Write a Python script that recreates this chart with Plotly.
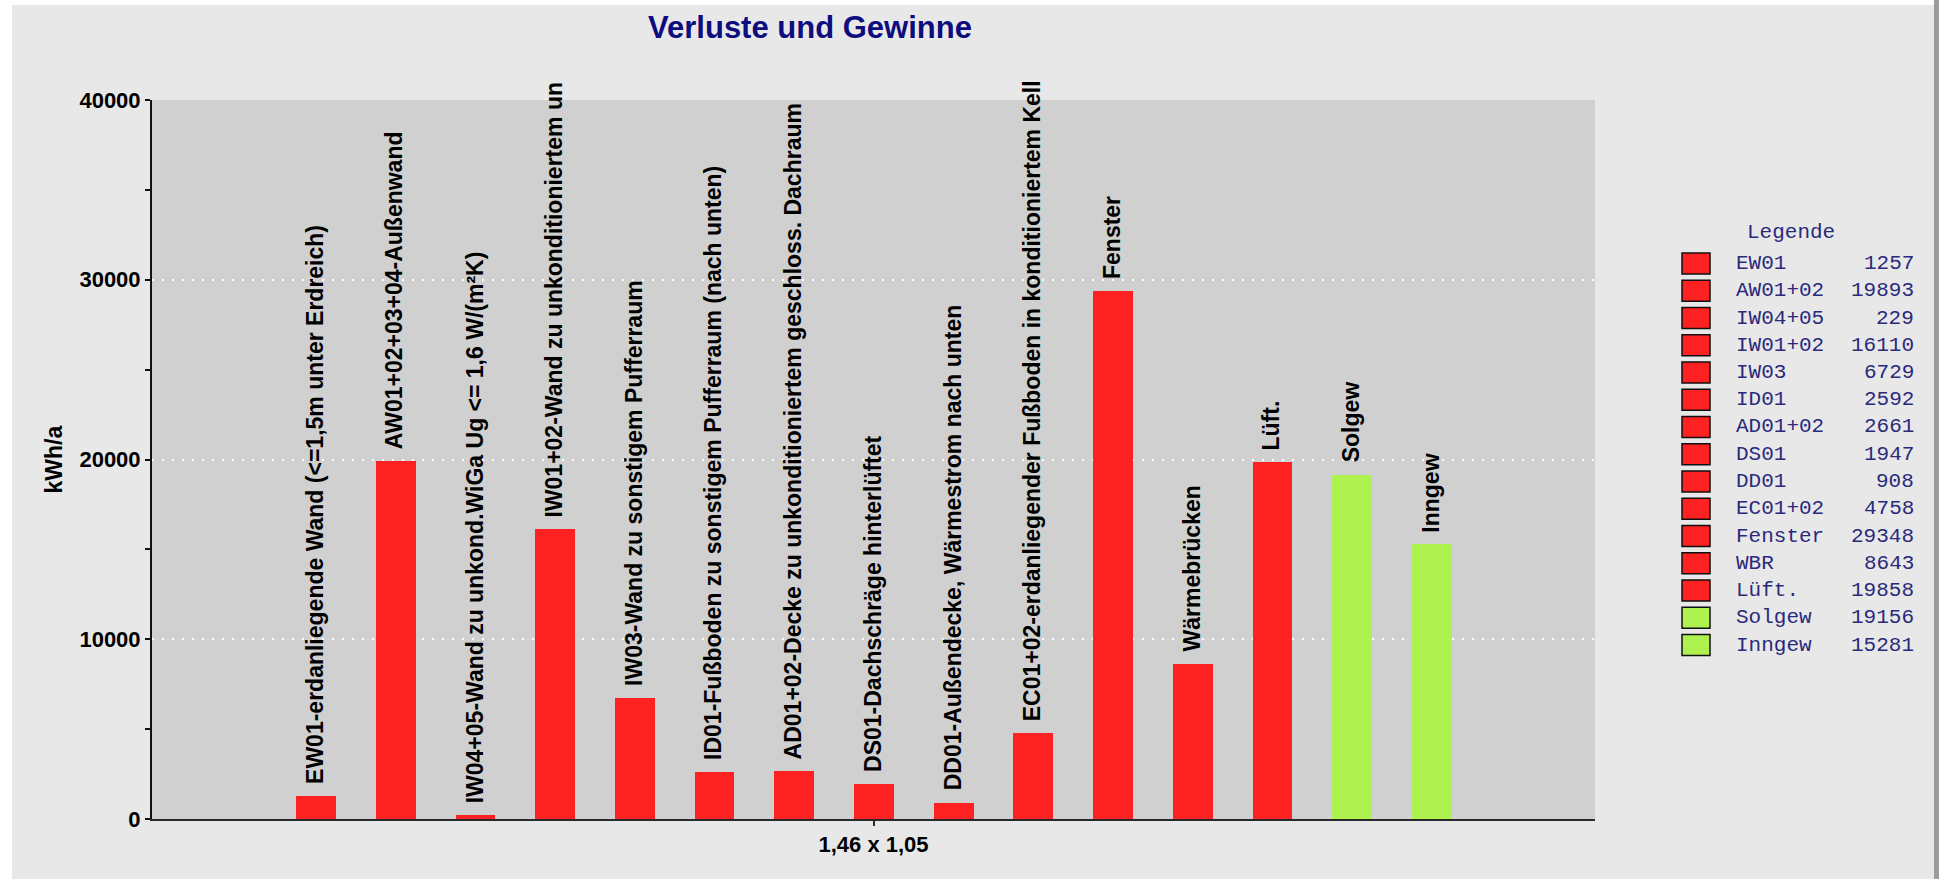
import plotly.graph_objects as go

# ---------------- data ----------------
legend_names = ["EW01", "AW01+02", "IW04+05", "IW01+02", "IW03", "ID01", "AD01+02",
                "DS01", "DD01", "EC01+02", "Fenster", "WBR", "Lüft.", "Solgew", "Inngew"]
bar_labels = [
    "EW01-erdanliegende Wand (<=1,5m unter Erdreich)",
    "AW01+02+03+04-Außenwand",
    "IW04+05-Wand zu unkond.WiGa Ug <= 1,6 W/(m²K)",
    "IW01+02-Wand zu unkonditioniertem un",
    "IW03-Wand zu sonstigem Pufferraum",
    "ID01-Fußboden zu sonstigem Pufferraum (nach unten)",
    "AD01+02-Decke zu unkonditioniertem geschloss. Dachraum",
    "DS01-Dachschräge hinterlüftet",
    "DD01-Außendecke, Wärmestrom nach unten",
    "EC01+02-erdanliegender Fußboden in konditioniertem Kell",
    "Fenster",
    "Wärmebrücken",
    "Lüft.",
    "Solgew",
    "Inngew",
]
values = [1257, 19893, 229, 16110, 6729, 2592, 2661, 1947, 908, 4758, 29348, 8643, 19858, 19156, 15281]
groups = ["Verlust"] * 13 + ["Gewinn"] * 2

title_text = "Verluste und Gewinne"
y_title = "kWh/a"
x_title = "1,46 x 1,05"
legend_title = "Legende"
y_ticks = [0, 10000, 20000, 30000, 40000]

# ---------------- style ----------------
W, H = 1943, 879
L, R, T, B = 152, 348, 100, 60
PW, PH = W - L - R, H - T - B
group_colors = {"Verlust": "#fe2121", "Gewinn": "#aff24f"}
SANS = "Liberation Sans, Arial, sans-serif"
MONO = "Liberation Mono, Courier New, monospace"
NAVY = "#0d0d7e"
LEG_COL = "#2a2a7c"


def pxx(p):
    return (p - L) / PW


def pxy(p):
    return (H - B - p) / PH


pos = [i + 1 for i in range(len(values))]
x_range = [-1.058, 17.047]

fig = go.Figure()
for g in ["Verlust", "Gewinn"]:
    idx = [i for i, gg in enumerate(groups) if gg == g]
    fig.add_trace(go.Bar(
        x=[pos[i] for i in idx],
        y=[values[i] for i in idx],
        name=g,
        width=0.5,
        marker=dict(color=group_colors[g], line=dict(width=0)),
        showlegend=False,
        hoverinfo="y",
    ))

annotations = []
# labels above bars
for i, (lab, v) in enumerate(zip(bar_labels, values)):
    annotations.append(dict(
        x=pos[i], y=v, xref="x", yref="y", text=lab, showarrow=False,
        textangle=-90, xanchor="center", yanchor="bottom", yshift=12, xshift=-1,
        borderpad=0, borderwidth=0,
        font=dict(family=SANS, size=23, color="black", weight="bold"),
    ))

# y-axis title
annotations.append(dict(
    x=pxx(53), y=0.5, xref="paper", yref="paper", text=y_title, showarrow=False,
    textangle=-90, xanchor="center", yanchor="middle",
    font=dict(family=SANS, size=23, color="black", weight="bold"),
))

# custom legend
annotations.append(dict(
    x=pxx(1791), y=pxy(232), xref="paper", yref="paper", text=legend_title,
    showarrow=False, xanchor="center", yanchor="middle", borderpad=0, borderwidth=0,
    font=dict(family=MONO, size=21, color=LEG_COL),
))
shapes = []
row0, row_step = 263.5, 27.25
for i, (nm, v, g) in enumerate(zip(legend_names, values, groups)):
    yc = row0 + row_step * i
    shapes.append(dict(
        type="rect", xref="paper", yref="paper",
        x0=pxx(1682), x1=pxx(1710), y0=pxy(yc - 10.5), y1=pxy(yc + 10.5),
        fillcolor=group_colors[g], line=dict(color="#111111", width=1.5),
    ))
    annotations.append(dict(
        x=pxx(1736), y=pxy(yc), xref="paper", yref="paper", text=nm, showarrow=False,
        xanchor="left", yanchor="middle", borderpad=0, borderwidth=0,
        font=dict(family=MONO, size=21, color=LEG_COL),
    ))
    annotations.append(dict(
        x=pxx(1914), y=pxy(yc), xref="paper", yref="paper", text=str(v), showarrow=False,
        xanchor="right", yanchor="middle", borderpad=0, borderwidth=0,
        font=dict(family=MONO, size=21, color=LEG_COL),
    ))

# frame decorations
shapes.append(dict(type="rect", xref="paper", yref="paper", x0=pxx(0), x1=pxx(12),
                   y0=pxy(H), y1=pxy(0), fillcolor="white", line=dict(width=0)))
shapes.append(dict(type="rect", xref="paper", yref="paper", x0=pxx(0), x1=pxx(W),
                   y0=pxy(5), y1=pxy(0), fillcolor="white", line=dict(width=0)))
shapes.append(dict(type="rect", xref="paper", yref="paper", x0=pxx(1934), x1=pxx(1939),
                   y0=pxy(H), y1=pxy(0), fillcolor="#9c9c9c", line=dict(width=0)))
shapes.append(dict(type="rect", xref="paper", yref="paper", x0=pxx(1939), x1=pxx(W),
                   y0=pxy(H), y1=pxy(0), fillcolor="white", line=dict(width=0)))

fig.update_layout(
    width=W, height=H,
    margin=dict(l=L, r=R, t=T, b=B, pad=0),
    paper_bgcolor="#e8e8e8",
    plot_bgcolor="#d0d0d0",
    title=dict(text=title_text, x=810 / W, y=1 - 27.5 / H, xanchor="center", yanchor="middle",
               xref="container", yref="container",
               font=dict(family=SANS, size=31, color=NAVY, weight="bold")),
    bargap=0,
    showlegend=False,
    annotations=annotations,
    shapes=shapes,
)
fig.update_xaxes(
    range=x_range, showgrid=False, zeroline=False,
    showline=True, linecolor="#2a2a2a", linewidth=2,
    tickmode="array", tickvals=[sum(x_range) / 2], ticktext=[x_title],
    ticks="outside", ticklen=5, tickwidth=2, tickcolor="#2a2a2a",
    tickfont=dict(family=SANS, size=22, color="black", weight="bold"),
    fixedrange=True,
)
fig.update_yaxes(
    range=[0, 40000], tickmode="array", tickvals=y_ticks, tickformat="d",
    showgrid=True, gridcolor="white", gridwidth=1.5, griddash="2px,8px",
    zeroline=False, showline=True, linecolor="#111111", linewidth=2,
    ticks="outside", ticklen=5, tickwidth=2, tickcolor="#111111",
    minor=dict(dtick=5000, tick0=0, ticks="outside", ticklen=5, tickwidth=2,
               tickcolor="#111111", showgrid=False),
    tickfont=dict(family=SANS, size=22, color="black", weight="bold"),
    fixedrange=True,
)

fig.write_html("out.html",
               config={"displayModeBar": False},
               post_script="document.body.style.margin='0px';document.body.style.overflow='hidden';")
